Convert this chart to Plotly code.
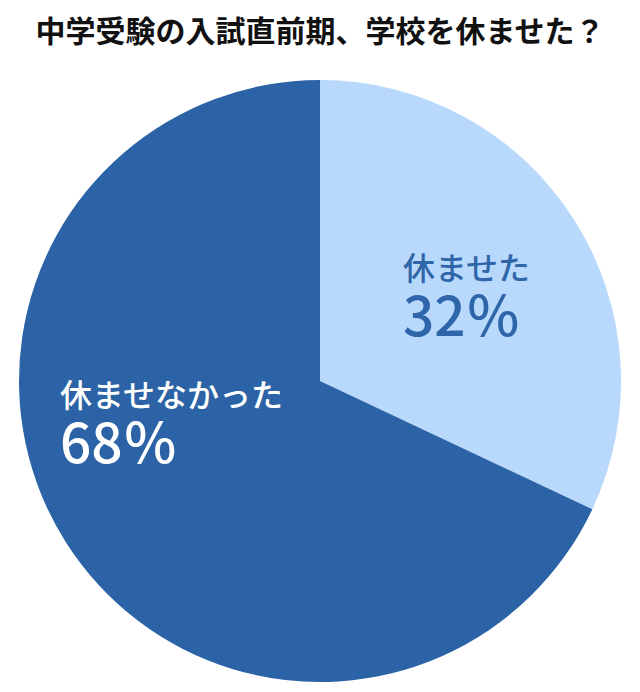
import plotly.graph_objects as go

labels = ["休ませた", "休ませなかった"]
values = [32, 68]
colors = ["#b8d9fc", "#2c63a6"]
text_colors = ["#2f66a9", "#ffffff"]

W, H = 640, 692
OFF = 8  # page body margin in the browser


def px(x, y):
    # window pixel position -> paper coordinates
    return (x - OFF) / W, 1 - (y - OFF) / H


pie_x0, pie_top = px(19, 80)
pie_x1, pie_bot = px(621, 682)

fig = go.Figure(go.Pie(
    labels=labels,
    values=values,
    marker=dict(colors=colors, line=dict(width=0)),
    sort=False,
    direction="clockwise",
    rotation=0,
    textinfo="none",
    hoverinfo="label+percent",
    showlegend=False,
    domain=dict(x=[pie_x0, pie_x1], y=[pie_bot, pie_top]),
))

# label block positions (left edge, vertical centre) in pixels
label_pos = [(401, 298), (58, 424)]

for name, val, col, (lx, ly) in zip(labels, values, text_colors, label_pos):
    x0, y0 = px(lx, ly)
    txt = (f"<span style='font-size:32px'>{name}</span><br>"
           f"<span style='font-size:55px'>{val}％</span>")
    fig.add_annotation(x=x0, y=y0, xref="paper", yref="paper", text=txt,
                       showarrow=False, xanchor="left", yanchor="middle", align="left",
                       font=dict(size=43, color=col, family="Noto Sans CJK JP", weight=500))

tx, ty = px(320, 31)
fig.update_layout(
    width=W, height=H,
    margin=dict(l=0, r=0, t=0, b=0),
    paper_bgcolor="white",
    plot_bgcolor="white",
    title=dict(text="<b>中学受験の入試直前期、学校を休ませた？</b>",
               x=tx, xanchor="center", y=ty, yanchor="middle",
               font=dict(size=30, color="#111111", family="Noto Sans CJK JP")),
)

fig.write_html("out.html")
